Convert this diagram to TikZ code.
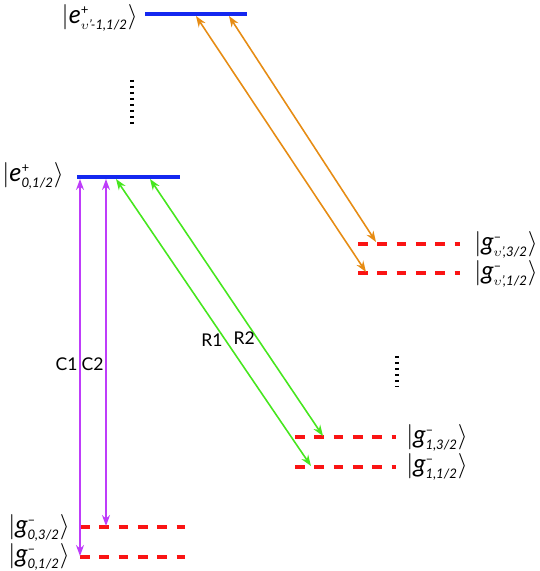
\documentclass[tikz,border=0pt]{standalone}
\usepackage{amsmath}
\usepackage{fontspec}
\setsansfont{Lato}
\usetikzlibrary{arrows.meta}

\newcommand{\subsz}{\fontsize{7.5}{8}\selectfont}
\newcommand{\ketlab}[3]{$|\text{\itshape #1}^{\text{\subsz #2}}_{\text{\subsz\itshape #3}}\rangle$}

\definecolor{levblue}{RGB}{20,40,240}
\definecolor{levred}{RGB}{250,20,20}
\definecolor{trpurple}{RGB}{190,60,250}
\definecolor{trgreen}{RGB}{70,230,30}
\definecolor{trorange}{RGB}{230,140,20}

\begin{document}
\begin{tikzpicture}[
    x=0.02cm, y=-0.02cm,
    upper/.style={draw=levblue, line width=2.3pt},
    lower/.style={draw=levred, line width=2.3pt, dash pattern=on 5.5pt off 5.5pt},
    vdots/.style={draw=black, line width=2.2pt, dash pattern=on 1.4pt off 2pt},
    ketl/.style={font=\sffamily\Large, inner sep=0pt},
    trans/.style={line width=0.9pt, {Stealth[length=2.2mm,width=1.6mm]}-{Stealth[length=2.2mm,width=1.6mm]}},
    lab/.style={font=\sffamily, inner sep=1pt}
]
    \useasboundingbox (0,0) rectangle (540,571);

    % levels
    \coordinate (eT-l) at (145,14);  \coordinate (eT-r) at (247,14);
    \coordinate (e0-l) at (77,177);  \coordinate (e0-r) at (180,177);
    \coordinate (gv3-l) at (358,244); \coordinate (gv3-r) at (460,244);
    \coordinate (gv1-l) at (358,273); \coordinate (gv1-r) at (460,273);
    \coordinate (g13-l) at (295,437); \coordinate (g13-r) at (396,437);
    \coordinate (g11-l) at (295,467); \coordinate (g11-r) at (396,467);
    \coordinate (g03-l) at (80,527);  \coordinate (g03-r) at (185,527);
    \coordinate (g01-l) at (80,557);  \coordinate (g01-r) at (185,557);

    \draw [upper] (eT-l) -- (eT-r);
    \draw [upper] (e0-l) -- (e0-r);
    \draw [lower] (gv3-l) -- (gv3-r);
    \draw [lower] (gv1-l) -- (gv1-r);
    \draw [lower] (g13-l) -- (g13-r);
    \draw [lower] (g11-l) -- (g11-r);
    \draw [lower] (g03-l) -- (g03-r);
    \draw [lower] (g01-l) -- (g01-r);

    % labels
    \node (eT) [ketl, anchor=east] at (138,18) {\ketlab{e}{+}{$\upsilon$'-1,1/2}};
    \node (e0) [ketl, anchor=east] at (64,176) {\ketlab{e}{+}{0,1/2}};
    \node (gv3) [ketl, anchor=west] at (474,245) {\ketlab{g}{--}{$\upsilon$',3/2}};
    \node (gv1) [ketl, anchor=west] at (474,274) {\ketlab{g}{--}{$\upsilon$',1/2}};
    \node (g13) [ketl, anchor=west] at (406,438) {\ketlab{g}{--}{1,3/2}};
    \node (g11) [ketl, anchor=west] at (406,467) {\ketlab{g}{--}{1,1/2}};
    \node (g03) [ketl, anchor=east] at (70,528) {\ketlab{g}{--}{0,3/2}};
    \node (g01) [ketl, anchor=east] at (70,557) {\ketlab{g}{--}{0,1/2}};

    % dots
    \coordinate (d1a) at (132,80);  \coordinate (d1b) at (132,125);
    \coordinate (d2a) at (397,356); \coordinate (d2b) at (397,386);
    \draw [vdots] (d1a) -- (d1b);
    \draw [vdots] (d2a) -- (d2b);

    % transition ends
    \coordinate (c1-t) at (80,179);  \coordinate (c1-b) at (80,556);
    \coordinate (c2-t) at (106,179); \coordinate (c2-b) at (106,526);
    \coordinate (r1-t) at (116,179); \coordinate (r1-b) at (311,466);
    \coordinate (r2-t) at (150,179); \coordinate (r2-b) at (323,436);
    \coordinate (o1-t) at (196,16);  \coordinate (o1-b) at (366,272);
    \coordinate (o2-t) at (229,16);  \coordinate (o2-b) at (376,242);

    \draw [trans, trpurple] (c1-t) -- node[lab, pos=0.49, left, black] {C1} (c1-b);
    \draw [trans, trpurple] (c2-t) -- node[lab, pos=0.535, left, black] {C2} (c2-b);
    \draw [trans, trgreen] (r1-t) -- node[lab, pos=0.56, left, black] {R1} (r1-b);
    \draw [trans, trgreen] (r2-t) -- node[lab, pos=0.62, left, black] {R2} (r2-b);
    \draw [trans, trorange] (o1-t) -- (o1-b);
    \draw [trans, trorange] (o2-t) -- (o2-b);
\end{tikzpicture}
\end{document}
